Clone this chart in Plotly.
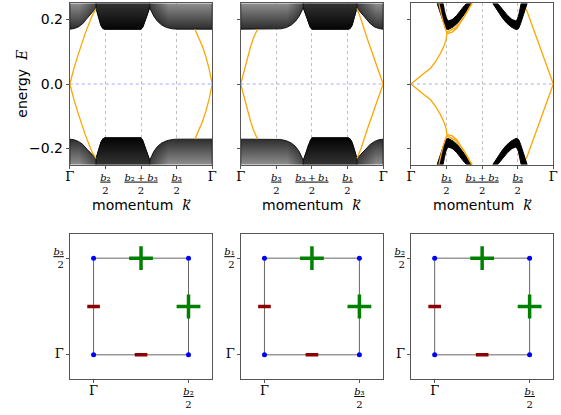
import plotly.graph_objects as go

# ---------------- data ----------------
K_TICKS = [0.0, 0.25, 0.5, 0.75, 1.0]
E_TICKS = [-0.2, 0.0, 0.2]
E_TICK_LABELS = ["\u22120.2", "0.0", "0.2"]
E_RANGE = [-0.25, 0.25]

# panel 1 : bulk continuum gap edges
P1_K = [0.000, 0.030, 0.060, 0.090, 0.120, 0.150, 0.175, 0.184, 0.192, 0.205, 0.218, 0.232, 0.245, 0.300, 0.400,
        0.500, 0.512, 0.525, 0.540, 0.552, 0.561, 0.572, 0.590, 0.615, 0.645, 0.680, 0.720, 0.760, 0.880, 1.000]
P1_UP_E = [0.170, 0.172, 0.177, 0.187, 0.203, 0.218, 0.231, 0.236, 0.222, 0.200, 0.182, 0.172, 0.170, 0.170, 0.171,
           0.170, 0.176, 0.190, 0.210, 0.226, 0.237, 0.226, 0.210, 0.195, 0.183, 0.175, 0.171, 0.170, 0.170, 0.170]
P1_LO_E = [-0.171, -0.173, -0.178, -0.187, -0.202, -0.216, -0.227, -0.231, -0.220, -0.199, -0.181, -0.170, -0.167, -0.167, -0.167,
           -0.167, -0.175, -0.190, -0.211, -0.227, -0.237, -0.226, -0.209, -0.194, -0.183, -0.176, -0.172, -0.171, -0.171, -0.171]
P1_DARK = [0.184, 0.561]
P1_EDGE_L_K = [0.000, 0.032, 0.069, 0.108, 0.154, 0.184]
P1_EDGE_L_UP_E = [0.000, 0.054, 0.105, 0.157, 0.209, 0.234]
P1_EDGE_L_LO_E = [0.000, -0.054, -0.105, -0.157, -0.209, -0.231]
P1_EDGE_R_K = [0.878, 0.905, 0.930, 0.955, 0.978, 1.000]
P1_EDGE_R_UP_E = [0.170, 0.145, 0.118, 0.085, 0.047, 0.000]
P1_EDGE_R_LO_E = [-0.171, -0.145, -0.118, -0.085, -0.047, 0.000]

# panel 2
P2_K = [0.000, 0.120, 0.240, 0.280, 0.320, 0.355, 0.385, 0.410, 0.428, 0.439, 0.448, 0.460, 0.475, 0.488, 0.500,
        0.600, 0.700, 0.755, 0.768, 0.782, 0.795, 0.808, 0.816, 0.825, 0.850, 0.880, 0.910, 0.940, 0.970, 1.000]
P2_UP_E = [0.170, 0.170, 0.170, 0.171, 0.175, 0.183, 0.195, 0.210, 0.226, 0.237, 0.226, 0.210, 0.190, 0.176, 0.170,
           0.171, 0.170, 0.170, 0.172, 0.182, 0.200, 0.222, 0.236, 0.231, 0.218, 0.203, 0.187, 0.177, 0.172, 0.170]
P2_LO_E = [-0.171, -0.171, -0.171, -0.172, -0.176, -0.183, -0.194, -0.209, -0.226, -0.237, -0.227, -0.211, -0.190, -0.175, -0.167,
           -0.167, -0.167, -0.167, -0.170, -0.181, -0.199, -0.220, -0.231, -0.227, -0.216, -0.202, -0.187, -0.178, -0.173, -0.171]
P2_DARK = [0.439, 0.816]
P2_EDGE_L_K = [0.000, 0.023, 0.046, 0.069, 0.092, 0.118]
P2_EDGE_L_UP_E = [0.000, 0.040, 0.082, 0.116, 0.146, 0.170]
P2_EDGE_L_LO_E = [0.000, -0.040, -0.082, -0.116, -0.146, -0.171]
P2_EDGE_R_K = [0.816, 0.845, 0.885, 0.931, 0.970, 1.000]
P2_EDGE_R_UP_E = [0.234, 0.200, 0.145, 0.088, 0.040, 0.000]
P2_EDGE_R_LO_E = [-0.231, -0.200, -0.145, -0.088, -0.040, 0.000]

# panel 3 : thick bulk arcs
P3_ARC1_OUT_K = [0.184, 0.200, 0.215, 0.230, 0.242, 0.250, 0.262, 0.272, 0.300, 0.330, 0.360, 0.390, 0.425]
P3_ARC1_OUT_UP_E = [0.250, 0.228, 0.206, 0.187, 0.174, 0.170, 0.169, 0.171, 0.178, 0.190, 0.206, 0.225, 0.250]
P3_ARC1_OUT_LO_E = [-0.250, -0.228, -0.206, -0.187, -0.174, -0.170, -0.169, -0.171, -0.178, -0.190, -0.206, -0.225, -0.250]
P3_ARC1_IN_K = [0.226, 0.235, 0.245, 0.255, 0.265, 0.290, 0.320, 0.350, 0.375, 0.391]
P3_ARC1_IN_UP_E = [0.250, 0.228, 0.210, 0.199, 0.196, 0.200, 0.212, 0.228, 0.243, 0.250]
P3_ARC1_IN_LO_E = [-0.250, -0.228, -0.210, -0.199, -0.196, -0.200, -0.212, -0.228, -0.243, -0.250]
P3_ARC2_OUT_K = [0.575, 0.610, 0.640, 0.670, 0.700, 0.728, 0.738, 0.750, 0.758, 0.770, 0.785, 0.800, 0.816]
P3_ARC2_OUT_UP_E = [0.250, 0.225, 0.206, 0.190, 0.178, 0.171, 0.169, 0.170, 0.174, 0.187, 0.206, 0.228, 0.250]
P3_ARC2_OUT_LO_E = [-0.250, -0.225, -0.206, -0.190, -0.178, -0.171, -0.169, -0.170, -0.174, -0.187, -0.206, -0.228, -0.250]
P3_ARC2_IN_K = [0.609, 0.625, 0.650, 0.680, 0.710, 0.735, 0.745, 0.755, 0.765, 0.774]
P3_ARC2_IN_UP_E = [0.250, 0.243, 0.228, 0.212, 0.200, 0.196, 0.199, 0.210, 0.228, 0.250]
P3_ARC2_IN_LO_E = [-0.250, -0.243, -0.228, -0.212, -0.200, -0.196, -0.199, -0.210, -0.228, -0.250]
# panel 3 : edge states
P3_EDGE_L_K = [0.000, 0.046, 0.092, 0.138, 0.172, 0.207, 0.230, 0.246, 0.252, 0.265, 0.290, 0.322, 0.345, 0.368, 0.395, 0.414, 0.432]
P3_EDGE_L_UP_E = [0.000, 0.018, 0.033, 0.049, 0.069, 0.095, 0.116, 0.136, 0.155, 0.158, 0.161, 0.173, 0.188, 0.204, 0.224, 0.240, 0.250]
P3_EDGE_L_LO_E = [0.000, -0.018, -0.033, -0.049, -0.069, -0.095, -0.116, -0.136, -0.155, -0.158, -0.161, -0.173, -0.188, -0.204, -0.224, -0.240, -0.250]
P3_EDGE_L2_K = [0.250, 0.262, 0.280, 0.310, 0.340, 0.370, 0.400, 0.428]
P3_EDGE_L2_UP_E = [0.160, 0.163, 0.166, 0.174, 0.188, 0.206, 0.228, 0.250]
P3_EDGE_L2_LO_E = [-0.160, -0.163, -0.166, -0.174, -0.188, -0.206, -0.228, -0.250]
P3_EDGE_L3_K = [0.252, 0.240, 0.225, 0.210, 0.196]
P3_EDGE_L3_UP_E = [0.158, 0.172, 0.195, 0.222, 0.250]
P3_EDGE_L3_LO_E = [-0.158, -0.172, -0.195, -0.222, -0.250]
P3_EDGE_R_K = [0.810, 0.860, 0.897, 0.943, 1.000]
P3_EDGE_R_UP_E = [0.232, 0.172, 0.130, 0.072, 0.000]
P3_EDGE_R_LO_E = [-0.232, -0.172, -0.130, -0.072, 0.000]

# bottom panels : loop in the (k_i, k_j) plane
SQ_X = [0, 1, 1, 0, 0]
SQ_Y = [0, 0, 1, 1, 0]
CORNER_X = [0, 1, 1, 0]
CORNER_Y = [0, 0, 1, 1]
PLUS_X = [0.5, 1.0]
PLUS_Y = [1.0, 0.5]
MINUS_X = [0.0, 0.5]
MINUS_Y = [0.5, 0.0]

# tick label texts
SUB = {1: "\u2081", 2: "\u2082", 3: "\u2083"}
GAMMA = "<span style='font-size:13px'>\u0393</span>"


def bv(n):
    return "<i>b</i>" + SUB[n]


def frac(num):
    return "<u>" + num + "</u><br>2"


TOP_PATHS = [[2, 3], [3, 1], [1, 2]]
BOT_AXES = [[2, 3], [3, 1], [1, 2]]   # (x label b, y label b)

# ---------------- layout geometry ----------------
W, H = 561, 415
X_DOM_PX = [[66, 211], [240, 385], [413.3, 558.3]]
TOP_Y_PX = [3.4, 164.6]
BOT_Y_PX = [234, 379]


def px_x(p):
    return p / W


def px_y(p):
    return 1 - p / H


ORANGE = "#ffa500"
FRAME = "#555555"
E_OUT = 0.27
E_FAR = 0.25

fig = go.Figure()


def subset(k, e, kmin, kmax):
    ks, es = [], []
    for a, b in zip(k, e):
        if (kmin is None or a >= kmin - 1e-9) and (kmax is None or a <= kmax + 1e-9):
            ks.append(a)
            es.append(b)
    return ks, es


def band_fill(ax, k, e, far, grad, kmin=None, kmax=None, edge=True):
    ks, es = subset(k, e, kmin, kmax)
    xs = ks + [ks[-1], ks[0], ks[0]]
    ys = es + [far, far, es[0]]
    fig.add_trace(go.Scatter(
        x=xs, y=ys, mode="lines", fill="toself",
        line=dict(color="#0a0a0a", width=0.9 if edge else 0),
        fillgradient=grad,
        xaxis="x" + ax, yaxis="y" + ax, showlegend=False, hoverinfo="skip"))


def vgrad(c_edge, c_far, edge, far):
    lo, hi = (edge, far) if far > edge else (far, edge)
    cs = [c_edge, c_far] if far > edge else [c_far, c_edge]
    return dict(type="vertical", colorscale=[[0, cs[0]], [1, cs[1]]], start=lo, stop=hi)


def hgrad(c0, c1, k0, k1):
    return dict(type="horizontal", colorscale=[[0, c0], [1, c1]], start=k0, stop=k1)


def line(ax, k, e, color=ORANGE, width=1.3):
    fig.add_trace(go.Scatter(x=k, y=e, mode="lines", line=dict(color=color, width=width),
                             xaxis="x" + ax, yaxis="y" + ax, showlegend=False, hoverinfo="skip"))


def poly(ax, kout, eout, kin, ein):
    xs = kout + kin[::-1] + [kout[0]]
    ys = eout + ein[::-1] + [eout[0]]
    fig.add_trace(go.Scatter(x=xs, y=ys, mode="lines", fill="toself", fillcolor="black",
                             line=dict(color="black", width=1),
                             xaxis="x" + ax, yaxis="y" + ax, showlegend=False, hoverinfo="skip"))


CLEAR = "rgba(0,0,0,0)"
SHADE = "rgba(0,0,0,0.5)"

for ax, K, UP, LO, DARK, EL, ER in [
    ("", P1_K, P1_UP_E, P1_LO_E, P1_DARK,
     (P1_EDGE_L_K, P1_EDGE_L_UP_E, P1_EDGE_L_LO_E), (P1_EDGE_R_K, P1_EDGE_R_UP_E, P1_EDGE_R_LO_E)),
    ("2", P2_K, P2_UP_E, P2_LO_E, P2_DARK,
     (P2_EDGE_L_K, P2_EDGE_L_UP_E, P2_EDGE_L_LO_E), (P2_EDGE_R_K, P2_EDGE_R_UP_E, P2_EDGE_R_LO_E))]:
    for E, sgn in ((UP, 1), (LO, -1)):
        far = sgn * E_OUT
        band_fill(ax, K, E, far, vgrad("#2c2c2c", "#8e8e8e", sgn * 0.17, sgn * E_FAR))
        # darkening of the side regions towards the notches
        band_fill(ax, K, E, far, hgrad(CLEAR, SHADE, DARK[0] - 0.12, DARK[0]), 0.0, DARK[0], edge=False)
        band_fill(ax, K, E, far, hgrad(SHADE, CLEAR, DARK[1], DARK[1] + 0.12), DARK[1], 1.0, edge=False)
        band_fill(ax, K, E, far, vgrad("#050505", "#333333", sgn * 0.17, sgn * E_FAR), DARK[0], DARK[1])
    for kk, eu, el in (EL, ER):
        line(ax, kk, eu)
        line(ax, kk, el)

# panel 3
poly("3", P3_ARC1_OUT_K, P3_ARC1_OUT_UP_E, P3_ARC1_IN_K, P3_ARC1_IN_UP_E)
poly("3", P3_ARC1_OUT_K, P3_ARC1_OUT_LO_E, P3_ARC1_IN_K, P3_ARC1_IN_LO_E)
poly("3", P3_ARC2_OUT_K, P3_ARC2_OUT_UP_E, P3_ARC2_IN_K, P3_ARC2_IN_UP_E)
poly("3", P3_ARC2_OUT_K, P3_ARC2_OUT_LO_E, P3_ARC2_IN_K, P3_ARC2_IN_LO_E)
for kk, eu, el in [(P3_EDGE_L_K, P3_EDGE_L_UP_E, P3_EDGE_L_LO_E),
                   (P3_EDGE_L2_K, P3_EDGE_L2_UP_E, P3_EDGE_L2_LO_E),
                   (P3_EDGE_L3_K, P3_EDGE_L3_UP_E, P3_EDGE_L3_LO_E),
                   (P3_EDGE_R_K, P3_EDGE_R_UP_E, P3_EDGE_R_LO_E)]:
    line("3", kk, eu)
    line("3", kk, el)

# bottom panels
for i in range(3):
    ax = str(i + 4)
    fig.add_trace(go.Scatter(x=SQ_X, y=SQ_Y, mode="lines", line=dict(color="#666666", width=1),
                             xaxis="x" + ax, yaxis="y" + ax, showlegend=False, hoverinfo="skip"))
    fig.add_trace(go.Scatter(x=CORNER_X, y=CORNER_Y, mode="markers",
                             marker=dict(color="#0000ff", size=5),
                             xaxis="x" + ax, yaxis="y" + ax, showlegend=False, hoverinfo="skip"))
    fig.add_trace(go.Scatter(x=MINUS_X, y=MINUS_Y, mode="markers",
                             marker=dict(symbol="line-ew", size=9, line=dict(color="#8b0000", width=3.5)),
                             xaxis="x" + ax, yaxis="y" + ax, showlegend=False, hoverinfo="skip"))
    fig.add_trace(go.Scatter(x=PLUS_X, y=PLUS_Y, mode="markers",
                             marker=dict(symbol="cross-thin", size=17, line=dict(color="#008000", width=3.5)),
                             xaxis="x" + ax, yaxis="y" + ax, showlegend=False, hoverinfo="skip"))

# ---------------- axes ----------------
common = dict(showline=True, mirror=True, linecolor=FRAME, linewidth=1, zeroline=False,
              ticks="outside", ticklen=3, tickcolor=FRAME)
layout = dict(width=W, height=H, margin=dict(l=0, r=0, t=0, b=0),
              paper_bgcolor="white", plot_bgcolor="white", showlegend=False,
              font=dict(family="DejaVu Sans", color="black"))
annotations = []
shapes = []
for i in range(3):
    sfx = "" if i == 0 else str(i + 1)
    xd = [px_x(X_DOM_PX[i][0]), px_x(X_DOM_PX[i][1])]
    a, b = TOP_PATHS[i]
    labels = [GAMMA, frac(bv(a)), frac(bv(a) + "\u2009+\u2009" + bv(b)), frac(bv(b)), GAMMA]
    layout["xaxis" + sfx] = dict(common, domain=xd, range=[0, 1], tickvals=K_TICKS, ticktext=labels,
                                 tickfont=dict(family="DejaVu Serif", size=10),
                                 showgrid=True, gridcolor="rgba(150,150,150,0.6)", griddash="dot", gridwidth=1,
                                 layer="above traces", anchor="y" + sfx)
    layout["yaxis" + sfx] = dict(common, domain=[px_y(TOP_Y_PX[1]), px_y(TOP_Y_PX[0])], range=E_RANGE,
                                 tickvals=E_TICKS, ticktext=E_TICK_LABELS, showticklabels=(i == 0),
                                 tickfont=dict(family="DejaVu Sans", size=14),
                                 showgrid=False, layer="above traces", anchor="x" + sfx)
    shapes.append(dict(type="line", xref="x" + sfx + " domain", yref="y" + sfx, x0=0, x1=1, y0=0, y1=0,
                       line=dict(color="#a8a8ff", width=1, dash="dot")))
    annotations.append(dict(text="momentum\u00a0\u00a0<span style='font-family:DejaVu Serif'><i>k</i>\u20d7</span>",
                            xref="paper", yref="paper", x=px_x(sum(X_DOM_PX[i]) / 2), y=px_y(205),
                            showarrow=False, font=dict(size=14, family="DejaVu Sans"),
                            xanchor="center", yanchor="middle"))
    # bottom
    bs = str(i + 4)
    bx, by = BOT_AXES[i]
    layout["xaxis" + bs] = dict(common, domain=xd, range=[-0.25, 1.25], tickvals=[0, 1],
                                ticktext=[GAMMA, frac(bv(bx))],
                                tickfont=dict(family="DejaVu Serif", size=10), showgrid=False, anchor="y" + bs)
    layout["yaxis" + bs] = dict(common, domain=[px_y(BOT_Y_PX[1]), px_y(BOT_Y_PX[0])], range=[-0.25, 1.25],
                                tickvals=[0, 1], ticktext=[GAMMA, frac(bv(by))],
                                tickfont=dict(family="DejaVu Serif", size=10), showgrid=False, anchor="x" + bs)

annotations.append(dict(text="energy\u00a0\u00a0<span style='font-family:DejaVu Serif'><i>E</i></span>",
                        xref="paper", yref="paper", x=px_x(17), y=px_y(84), textangle=-90,
                        showarrow=False, font=dict(size=14, family="DejaVu Sans"),
                        xanchor="center", yanchor="middle"))
layout["annotations"] = annotations
layout["shapes"] = shapes
fig.update_layout(**layout)
# the page body has a default 8 px margin; remove it so the figure sits at the window origin
fig.write_html("out.html", config={"displayModeBar": False},
               post_script="document.body.style.margin='0px';")
